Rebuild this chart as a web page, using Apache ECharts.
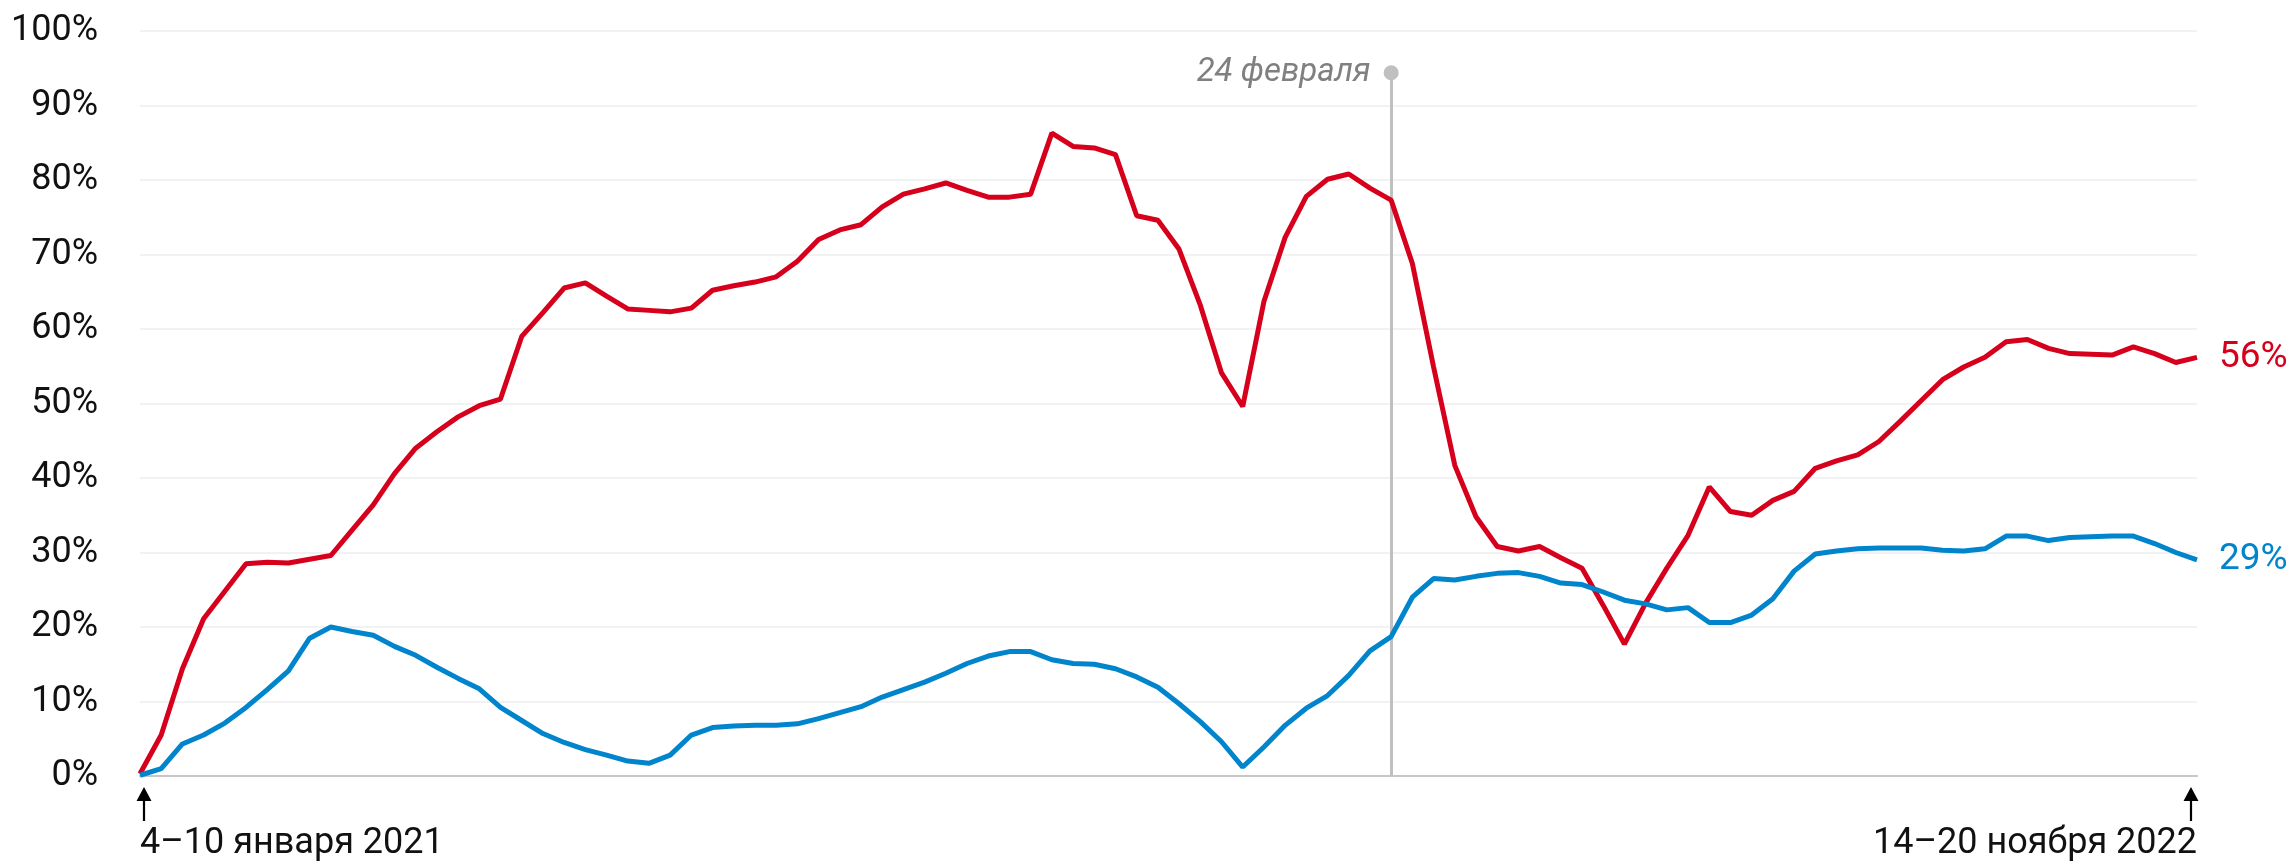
<!DOCTYPE html>
<html><head><meta charset="utf-8">
<script src="https://cdn.jsdelivr.net/npm/echarts@6/dist/echarts.min.js"></script>
<style>html,body{margin:0;padding:0;background:#fff}#c{width:2292px;height:864px}</style>
</head><body><div id="c"></div>
<script>
// Weekly categories: 4–10 Jan 2021 … 14–20 Nov 2022 (98 weeks)
const weekStarts = Array.from({length: 98}, (_, i) => {
  const d = new Date(Date.UTC(2021, 0, 4 + 7 * i));
  return d.toISOString().slice(0, 10);
});
const firstTickLabel = '4–10 января 2021';
const lastTickLabel = '14–20 ноября 2022';
const eventLabel = '24 февраля';
const eventWeekIndex = 59;
const eventMarkerValue = 94.4;
const yTicks = [0, 10, 20, 30, 40, 50, 60, 70, 80, 90, 100];

const redValues = [
  0.3, 5.5, 14.4, 21.1, 24.8, 28.5, 28.7, 28.6, 29.1, 29.6,
  33.0, 36.4, 40.6, 44.0, 46.2, 48.2, 49.7, 50.6, 59.0, 62.2,
  65.5, 66.2, 64.4, 62.7, 62.5, 62.3, 62.8, 65.2, 65.8, 66.3,
  67.0, 69.1, 72.0, 73.3, 74.0, 76.4, 78.1, 78.8, 79.6, 78.6,
  77.7, 77.7, 78.1, 86.3, 84.5, 84.3, 83.4, 75.2, 74.6, 70.7,
  63.2, 54.1, 49.6, 63.7, 72.3, 77.8, 80.1, 80.8, 78.9, 77.3,
  68.8, 54.9, 41.7, 34.8, 30.8, 30.2, 30.8, 29.3, 27.9, 22.9,
  17.7, 23.2, 27.9, 32.3, 38.8, 35.5, 35.0, 37.0, 38.2, 41.3,
  42.3, 43.1, 44.9, 47.6, 50.4, 53.2, 54.9, 56.2, 58.3, 58.6,
  57.4, 56.7, 56.6, 56.5, 57.6, 56.7, 55.5, 56.2
];
const blueValues = [
  0.1, 1.0, 4.3, 5.5, 7.1, 9.2, 11.6, 14.1, 18.5, 20.0,
  19.4, 18.9, 17.4, 16.2, 14.6, 13.1, 11.7, 9.2, 7.45, 5.7,
  4.5, 3.55, 2.8, 2.0, 1.7, 2.8, 5.5, 6.5, 6.7, 6.8,
  6.8, 7.0, 7.7, 8.5, 9.3, 10.6, 11.6, 12.6, 13.8, 15.1,
  16.1, 16.7, 16.7, 15.6, 15.1, 15.0, 14.4, 13.3, 11.9, 9.7,
  7.3, 4.6, 1.2, 3.9, 6.8, 9.1, 10.8, 13.5, 16.8, 18.7,
  24.0, 26.5, 26.3, 26.8, 27.2, 27.3, 26.8, 25.9, 25.7, 24.7,
  23.6, 23.1, 22.3, 22.6, 20.6, 20.6, 21.6, 23.8, 27.5, 29.8,
  30.2, 30.5, 30.6, 30.6, 30.6, 30.3, 30.2, 30.5, 32.2, 32.2,
  31.6, 32.0, 32.1, 32.2, 32.2, 31.2, 30.0, 29.0
];

const RED = '#d6001c';
const BLUE = '#0084cc';
const FONT = "Roboto, 'Liberation Sans', sans-serif";
const last = weekStarts.length - 1;

const chart = echarts.init(document.getElementById('c'), null, {renderer: 'canvas'});
chart.setOption({
  animation: false,
  backgroundColor: '#fff',
  textStyle: {fontFamily: FONT},
  grid: {left: 140, right: 95, top: 31, bottom: 88, containLabel: false},
  xAxis: {
    type: 'category',
    data: weekStarts,
    boundaryGap: false,
    axisLine: {show: true, lineStyle: {color: '#c6c6c6', width: 2}},
    axisTick: {show: false},
    splitLine: {show: false},
    axisLabel: {
      interval: (idx) => idx === 0 || idx === last,
      formatter: (v, idx) => idx === 0 ? firstTickLabel : (idx === last ? lastTickLabel : ''),
      alignMinLabel: 'left',
      alignMaxLabel: 'right',
      color: '#111',
      fontSize: 36,
      fontFamily: FONT,
      margin: 50
    }
  },
  yAxis: {
    type: 'value',
    min: yTicks[0],
    max: yTicks[yTicks.length - 1],
    interval: 10,
    axisLine: {show: false},
    axisTick: {show: false},
    splitLine: {show: true, lineStyle: {color: '#eeeeee', width: 1.5}},
    axisLabel: {
      formatter: '{value}%',
      color: '#111',
      fontSize: 36,
      fontFamily: FONT,
      margin: 42
    }
  },
  series: [
    {
      name: 'red',
      type: 'line',
      data: redValues,
      symbol: 'none',
      lineStyle: {color: RED, width: 5},
      itemStyle: {color: RED},
      z: 3,
      endLabel: {
        show: true,
        formatter: (p) => Math.round(p.value) + '%',
        color: RED,
        fontSize: 37,
        fontFamily: FONT,
        distance: 22
      },
      markLine: {
        silent: true,
        symbol: ['none', 'none'],
        label: {show: false},
        lineStyle: {color: '#c0c0c0', width: 3, type: 'solid'},
        data: [[
          {coord: [weekStarts[eventWeekIndex], 0]},
          {coord: [weekStarts[eventWeekIndex], eventMarkerValue]}
        ]],
        z: 1
      },
      markPoint: {
        silent: true,
        symbol: 'circle',
        symbolSize: 15,
        itemStyle: {color: '#c0c0c0'},
        label: {
          show: true,
          position: 'left',
          distance: 13,
          formatter: eventLabel,
          color: '#808080',
          fontStyle: 'italic',
          fontSize: 33,
          fontFamily: FONT
        },
        data: [{coord: [weekStarts[eventWeekIndex], eventMarkerValue]}]
      }
    },
    {
      name: 'blue',
      type: 'line',
      data: blueValues,
      symbol: 'none',
      lineStyle: {color: BLUE, width: 5},
      itemStyle: {color: BLUE},
      z: 4,
      endLabel: {
        show: true,
        formatter: (p) => Math.round(p.value) + '%',
        color: BLUE,
        fontSize: 37,
        fontFamily: FONT,
        distance: 22
      },
      markPoint: {
        silent: true,
        symbol: 'path://M7.5,0 L15,14 L8.6,14 L8.6,34 L6.4,34 L6.4,14 L0,14 Z',
        symbolSize: [15, 34],
        symbolKeepAspect: false,
        itemStyle: {color: '#000'},
        label: {show: false},
        data: [
          {coord: [weekStarts[0], 0], symbolOffset: [4, 28]},
          {coord: [weekStarts[last], 0], symbolOffset: [-6, 28]}
        ]
      }
    }
  ]
});
</script>
</body></html>
